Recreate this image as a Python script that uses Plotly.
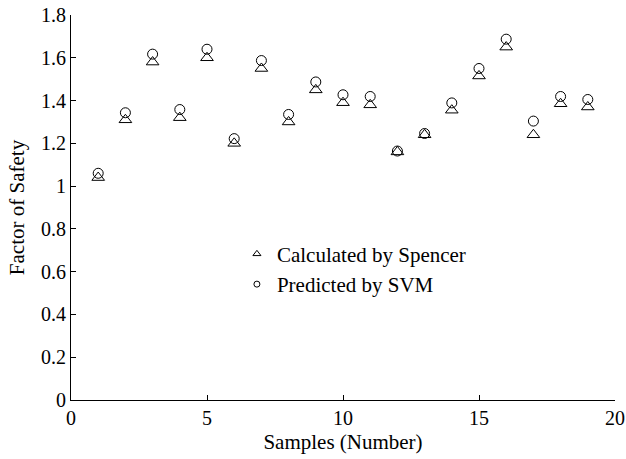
import plotly.graph_objects as go

samples = list(range(1, 20))
spencer = [1.04, 1.31, 1.58, 1.32, 1.60, 1.20, 1.55, 1.30, 1.45, 1.39,
           1.38, 1.16, 1.24, 1.355, 1.515, 1.65, 1.24, 1.385, 1.37]
svm = [1.06, 1.343, 1.617, 1.358, 1.64, 1.222, 1.587, 1.335, 1.487, 1.427,
       1.419, 1.164, 1.246, 1.389, 1.55, 1.687, 1.304, 1.419, 1.405]

x_ticks = [0, 5, 10, 15, 20]
y_ticks = [0, 0.2, 0.4, 0.6, 0.8, 1.0, 1.2, 1.4, 1.6, 1.8]

FONT = "Liberation Serif"

fig = go.Figure()
fig.add_trace(go.Scatter(
    x=samples, y=spencer, mode="markers", name="Calculated by Spencer",
    marker=dict(symbol="triangle-up-open", size=11, color="black",
                line=dict(width=1, color="black")),
    showlegend=False))
fig.add_trace(go.Scatter(
    x=samples, y=svm, mode="markers", name="Predicted by SVM",
    marker=dict(symbol="circle-open", size=10, color="black",
                line=dict(width=1, color="black")),
    showlegend=False))
# legend entries (small markers like the reference legend)
fig.add_trace(go.Scatter(
    x=[None], y=[None], mode="markers", name="Calculated by Spencer",
    legendgroup="a",
    marker=dict(symbol="triangle-up-open", size=7, color="black",
                line=dict(width=1, color="black"))))
fig.add_trace(go.Scatter(
    x=[None], y=[None], mode="markers", name="Predicted by SVM",
    legendgroup="b",
    marker=dict(symbol="circle-open", size=6, color="black",
                line=dict(width=1, color="black"))))

axis_common = dict(
    showline=True, linecolor="black", linewidth=1, mirror=False,
    ticks="inside", ticklen=5, tickcolor="black", tickwidth=1,
    showgrid=False, zeroline=False, automargin=False,
    tickfont=dict(family=FONT, size=20, color="black"),
)

fig.update_layout(
    width=626, height=459,
    margin=dict(l=71, r=11, t=15, b=59, autoexpand=False),
    paper_bgcolor="white", plot_bgcolor="white",
    font=dict(family=FONT, size=20, color="black"),
    xaxis=dict(range=[0, 20], tickvals=x_ticks,
               title=dict(text="Samples (Number)", font=dict(family=FONT, size=21), standoff=6),
               **axis_common),
    yaxis=dict(range=[0, 1.8], tickvals=y_ticks,
               ticktext=[("%g" % v) for v in y_ticks],
               title=dict(text="Factor of Safety", font=dict(family=FONT, size=21), standoff=10),
               **axis_common),
    legend=dict(x=0.305, y=0.432, xanchor="left", yanchor="top",
                bgcolor="rgba(0,0,0,0)", borderwidth=0,
                font=dict(family=FONT, size=21, color="black"),
                tracegroupgap=0, itemwidth=30),
    showlegend=True,
)

fig.write_html("out.html", config={"displayModeBar": False},
               post_script="document.body.style.margin='0';document.body.style.padding='0';")
